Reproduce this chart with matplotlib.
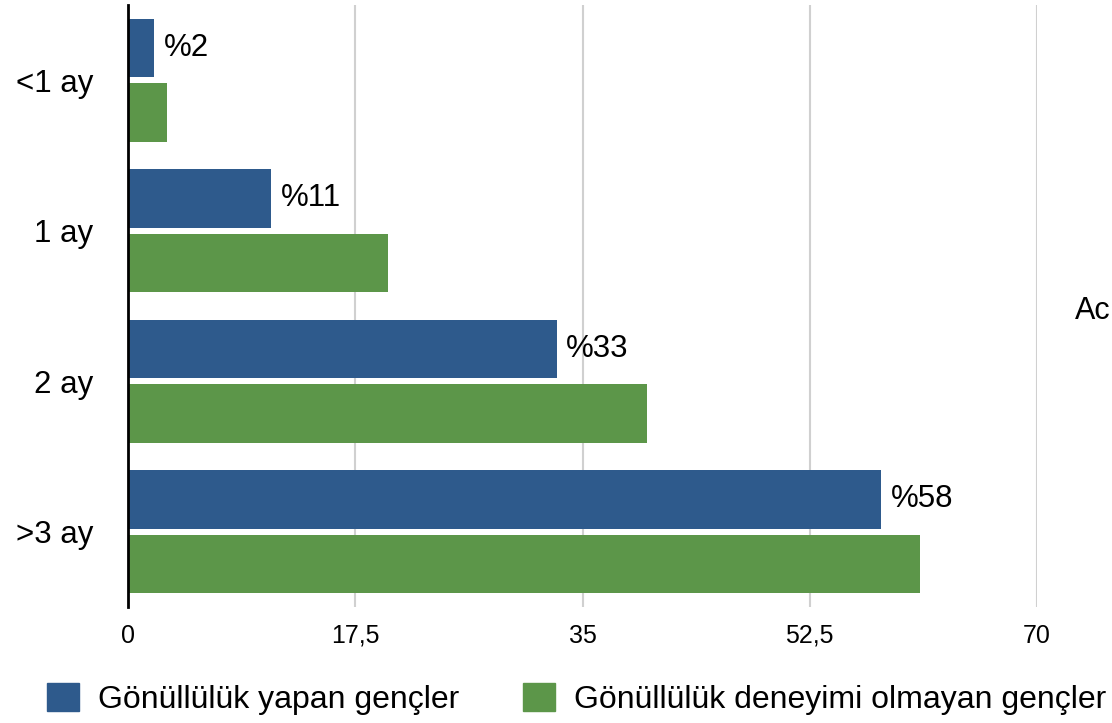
import numpy as np
import matplotlib
matplotlib.use("Agg")
import matplotlib.pyplot as plt
from matplotlib.patches import Patch

plt.rcParams['font.family'] = ['Liberation Sans', 'DejaVu Sans']

categories = ['<1 ay', '1 ay', '2 ay', '>3 ay']
gonullu = [2, 11, 33, 58]
deneyimsiz = [3, 20, 40, 61]
series_names = ['Gönüllülük yapan gençler', 'Gönüllülük deneyimi olmayan gençler']
xticks = [0, 17.5, 35, 52.5, 70]
xtick_labels = ['0', '17,5', '35', '52,5', '70']

blue = '#2e5a8c'
green = '#5c9649'

fig = plt.figure(figsize=(11.12, 7.23), dpi=100)
ax = fig.add_axes([128 / 1112, 1 - 607 / 723, (1037 - 128) / 1112, 602 / 723])

y = np.arange(len(categories))
h = 0.39
ax.barh(y - 0.215, gonullu, height=h, color=blue, zorder=3)
ax.barh(y + 0.215, deneyimsiz, height=h, color=green, zorder=3)

for yi, v in zip(y, gonullu):
    ax.text(v + 0.75, yi - 0.215, f'%{v}', va='center', ha='left', fontsize=22.5)

ax.set_xlim(0, 70)
ax.set_ylim(3.5, -0.5)
ax.set_yticks(y)
ax.set_yticklabels(categories, fontsize=22.5)
ax.set_xticks(xticks)
ax.set_xticklabels(xtick_labels, fontsize=18)
ax.tick_params(axis='both', length=0)
ax.tick_params(axis='x', pad=12)
ax.tick_params(axis='y', pad=25)

ax.grid(axis='x', color='#d0d0d0', linewidth=1.5, zorder=0)
for s in ['top', 'right', 'bottom']:
    ax.spines[s].set_visible(False)
ax.spines['left'].set_linewidth(2)
ax.spines['left'].set_zorder(4)

fig.text(1075 / 1112, 1 - 311 / 723, 'Ac', fontsize=22, va='center', ha='left')

handles = [Patch(color=blue), Patch(color=green)]
fig.legend(handles, series_names, loc='center left', ncol=2,
           bbox_to_anchor=(47 / 1112, 1 - 699 / 723), frameon=False, fontsize=23,
           handlelength=1.0, handleheight=1.0, columnspacing=2.0,
           handletextpad=0.6, borderpad=0, borderaxespad=0)

fig.savefig('out.png', dpi=100)
